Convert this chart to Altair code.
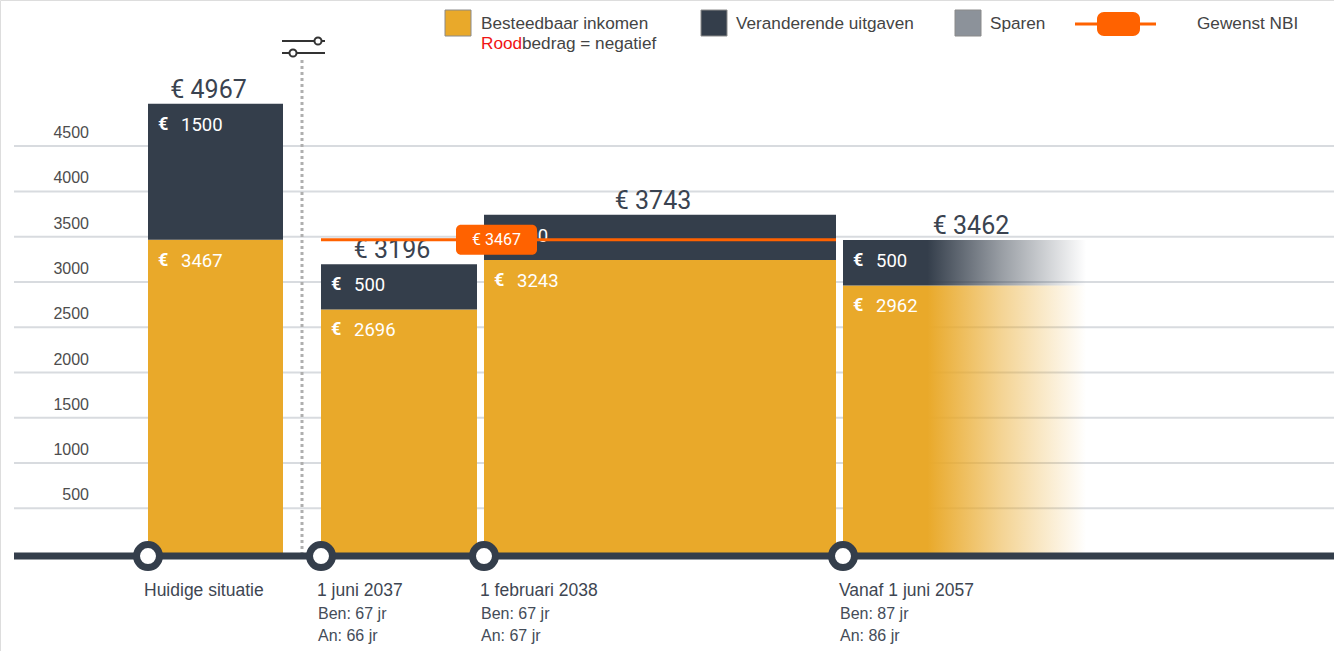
import altair as alt
import pandas as pd

# ---------------- data ----------------
periods = ["Huidige situatie", "1 juni 2037", "1 februari 2038", "Vanaf 1 juni 2057"]
besteedbaar = [3467, 2696, 3243, 2962]          # Besteedbaar inkomen
uitgaven = [1500, 500, 500, 500]                # Veranderende uitgaven
ben = ["", "Ben: 67 jr", "Ben: 67 jr", "Ben: 87 jr"]
an = ["", "An: 66 jr", "An: 67 jr", "An: 86 jr"]
gewenst_nbi = 3467
y_ticks = [500, 1000, 1500, 2000, 2500, 3000, 3500, 4000, 4500]

# timeline layout (horizontal units of the x scale)
x_start = [148, 321, 484, 843]
x_end = [283, 477, 836, 1099]
label_shift = [-7, -7, -7, 0]

# ---------------- styles ----------------
YELLOW = "#E9A92A"
DARK = "#343E4B"
GRAY = "#8C929A"
ORANGE = "#FF6200"
TXT = "#3A4350"
FONT = "Roboto"
SANS = "Liberation Sans"

W, H = 1334, 651
X = alt.Scale(domain=[0, W], range=[0, W], nice=False, zero=False)
Y = alt.Scale(domain=[-1075.6, 6113.7], range=[H, 0], nice=False, zero=False)

totals = [b + u for b, u in zip(besteedbaar, uitgaven)]

seg_rows = []
for i in range(4):
    seg_rows.append(dict(i=i, x0=x_start[i], x1=x_end[i], lo=0, hi=besteedbaar[i],
                         seg="inkomen", val=str(besteedbaar[i])))
    seg_rows.append(dict(i=i, x0=x_start[i], x1=x_end[i], lo=besteedbaar[i], hi=totals[i],
                         seg="uitgaven", val=str(uitgaven[i])))
seg = pd.DataFrame(seg_rows)

per = pd.DataFrame(dict(period=periods, x0=x_start, x1=x_end,
                        xc=[(a + b) / 2 + s for a, b, s in zip(x_start, x_end, label_shift)],
                        total=totals, tlabel=["€ %d" % t for t in totals],
                        ben=ben, an=an))

ticks = pd.DataFrame(dict(v=y_ticks))
one = pd.DataFrame(dict(a=[0]))

def px(v):
    return alt.value(v)

xq = lambda f: alt.X(f, type="quantitative", scale=X, axis=None)
yq = lambda f: alt.Y(f, type="quantitative", scale=Y, axis=None)

layers = []

# gridlines + y labels
layers.append(alt.Chart(ticks).mark_rule(color="#D8DBDF", strokeWidth=2).encode(
    x=alt.X(datum=14, scale=X, axis=None), x2=alt.datum(W), y=yq("v")))
layers.append(alt.Chart(ticks).mark_text(align="right", baseline="middle", dy=-13,
                                         fontSize=16, color="#4D4D4D", font=SANS).encode(
    x=alt.X(datum=89, scale=X, axis=None), y=yq("v"), text=alt.Text("v:Q")))

# dotted vertical line + slider icon
layers.append(alt.Chart(one).mark_rule(color="#AFAFAF", strokeWidth=3, strokeDash=[3, 3]).encode(
    x=px(302), y=px(60), y2=px(553)))
layers.append(alt.Chart(pd.DataFrame(dict(y=[41, 53]))).mark_rule(color="#333333", strokeWidth=2).encode(
    x=px(282), x2=px(325), y=alt.Y("y:Q", scale=None)))
layers.append(alt.Chart(pd.DataFrame(dict(x=[318, 293], y=[41, 53]))).mark_point(
    shape="circle", size=50, fill="white", filled=True, stroke="#333333", strokeWidth=2, opacity=1).encode(
    x=alt.X("x:Q", scale=None), y=alt.Y("y:Q", scale=None)))

# bars (first three)
seg_solid = seg[seg.i < 3]
layers.append(alt.Chart(seg_solid).mark_rect().encode(
    x=xq("x0"), x2="x1", y=yq("lo"), y2="hi",
    color=alt.Color("seg:N", scale=alt.Scale(domain=["inkomen", "uitgaven"], range=[YELLOW, DARK]),
                    legend=None)))

# fading last bar
def grad(hexcol, rgb):
    return alt.Gradient(gradient="linear", x1=0, x2=1, y1=0, y2=0, stops=[
        alt.GradientStop(color=hexcol, offset=0),
        alt.GradientStop(color=hexcol, offset=0.33),
        alt.GradientStop(color="rgba(%d,%d,%d,0.5)" % rgb, offset=0.62),
        alt.GradientStop(color="rgba(%d,%d,%d,0)" % rgb, offset=0.95),
        alt.GradientStop(color="rgba(%d,%d,%d,0)" % rgb, offset=1)])

last_y = seg[(seg.i == 3) & (seg.seg == "inkomen")]
last_d = seg[(seg.i == 3) & (seg.seg == "uitgaven")]
layers.append(alt.Chart(last_y).mark_rect(fill=grad(YELLOW, (233, 169, 42))).encode(
    x=xq("x0"), x2="x1", y=yq("lo"), y2="hi"))
layers.append(alt.Chart(last_d).mark_rect(fill=grad(DARK, (52, 62, 75))).encode(
    x=xq("x0"), x2="x1", y=yq("lo"), y2="hi"))

# inside labels
layers.append(alt.Chart(seg).mark_text(align="left", baseline="middle", dx=10, dy=21,
                                      fontSize=18, fontWeight="bold", color="white", font=FONT).encode(
    x=xq("x0"), y=yq("hi"), text=alt.value("€")))
layers.append(alt.Chart(seg).mark_text(align="left", baseline="middle", dx=33, dy=21,
                                      fontSize=18.5, color="white", font=FONT).encode(
    x=xq("x0"), y=yq("hi"), text="val:N"))

# totals
layers.append(alt.Chart(per).mark_text(align="center", baseline="alphabetic", dy=-6,
                                      fontSize=25, color=TXT, font=FONT).encode(
    x=xq("xc"), y=yq("total"), text="tlabel:N"))

# Gewenst NBI line + badge
layers.append(alt.Chart(one).mark_rule(color=ORANGE, strokeWidth=3).encode(
    x=alt.X(datum=x_start[1], scale=X, axis=None), x2=alt.datum(x_end[2]),
    y=alt.Y(datum=gewenst_nbi, scale=Y, axis=None)))
layers.append(alt.Chart(one).mark_rect(color=ORANGE, cornerRadius=5, yOffset=-15, y2Offset=15).encode(
    x=alt.X(datum=456, scale=X, axis=None), x2=alt.datum(537),
    y=alt.Y(datum=gewenst_nbi, scale=Y, axis=None), y2=alt.datum(gewenst_nbi)))
layers.append(alt.Chart(one).mark_text(align="center", baseline="middle", fontSize=16,
                                      color="white", font=FONT).encode(
    x=alt.X(datum=496.5, scale=X, axis=None), y=alt.Y(datum=gewenst_nbi, scale=Y, axis=None),
    text=alt.value("€ %d" % gewenst_nbi)))

# baseline + timeline circles
layers.append(alt.Chart(one).mark_rule(color=DARK, strokeWidth=7, yOffset=2.5).encode(
    x=alt.X(datum=14, scale=X, axis=None), x2=alt.datum(W),
    y=alt.Y(datum=0, scale=Y, axis=None)))
layers.append(alt.Chart(per).mark_point(shape="circle", size=529, filled=True, fill="white",
                                       stroke=DARK, strokeWidth=7, opacity=1, yOffset=2.5).encode(
    x=xq("x0"), y=alt.Y(datum=0, scale=Y, axis=None)))

# period labels
layers.append(alt.Chart(per).mark_text(align="left", baseline="middle", dx=-4, fontSize=17.5,
                                      color="#3E4652", font=SANS).encode(
    x=xq("x0"), y=px(591), text="period:N"))
layers.append(alt.Chart(per).mark_text(align="left", baseline="middle", dx=-3, fontSize=16,
                                      color="#444C58", font=SANS).encode(
    x=xq("x0"), y=px(613.5), text="ben:N"))
layers.append(alt.Chart(per).mark_text(align="left", baseline="middle", dx=-3, fontSize=16,
                                      color="#444C58", font=SANS).encode(
    x=xq("x0"), y=px(636), text="an:N"))

# legend
sw = pd.DataFrame(dict(x0=[445, 701, 955], x1=[471, 727, 981], c=[YELLOW, DARK, GRAY]))
layers.append(alt.Chart(sw).mark_rect(stroke="#8A8A8A", strokeWidth=1).encode(
    x=alt.X("x0:Q", scale=None), x2="x1", y=px(10), y2=px(36),
    color=alt.Color("c:N", scale=None)))
lt = pd.DataFrame(dict(x=[481, 736, 990, 1197],
                       t=["Besteedbaar inkomen", "Veranderende uitgaven", "Sparen", "Gewenst NBI"]))
layers.append(alt.Chart(lt).mark_text(align="left", baseline="middle", fontSize=17.2,
                                     color="#444444", font=SANS).encode(
    x=alt.X("x:Q", scale=None), y=px(24), text="t:N"))
layers.append(alt.Chart(one).mark_text(align="left", baseline="middle", fontSize=17.2,
                                      color="#F01414", font=SANS).encode(
    x=px(481), y=px(44), text=alt.value("Rood")))
layers.append(alt.Chart(one).mark_text(align="left", baseline="middle", fontSize=17.2,
                                      color="#444444", font=SANS).encode(
    x=px(522), y=px(44), text=alt.value("bedrag = negatief")))
layers.append(alt.Chart(one).mark_rule(color=ORANGE, strokeWidth=3).encode(
    x=px(1075), x2=px(1156), y=px(24)))
layers.append(alt.Chart(one).mark_rect(color=ORANGE, cornerRadius=7).encode(
    x=px(1097), x2=px(1140), y=px(12), y2=px(36)))

chart = alt.layer(*layers).properties(
    width=W, height=H, padding=0, autosize="none", background="white"
).configure_view(stroke=None).configure(font=FONT)

chart.save("out.html", embed_options={"renderer": "svg", "actions": False})
